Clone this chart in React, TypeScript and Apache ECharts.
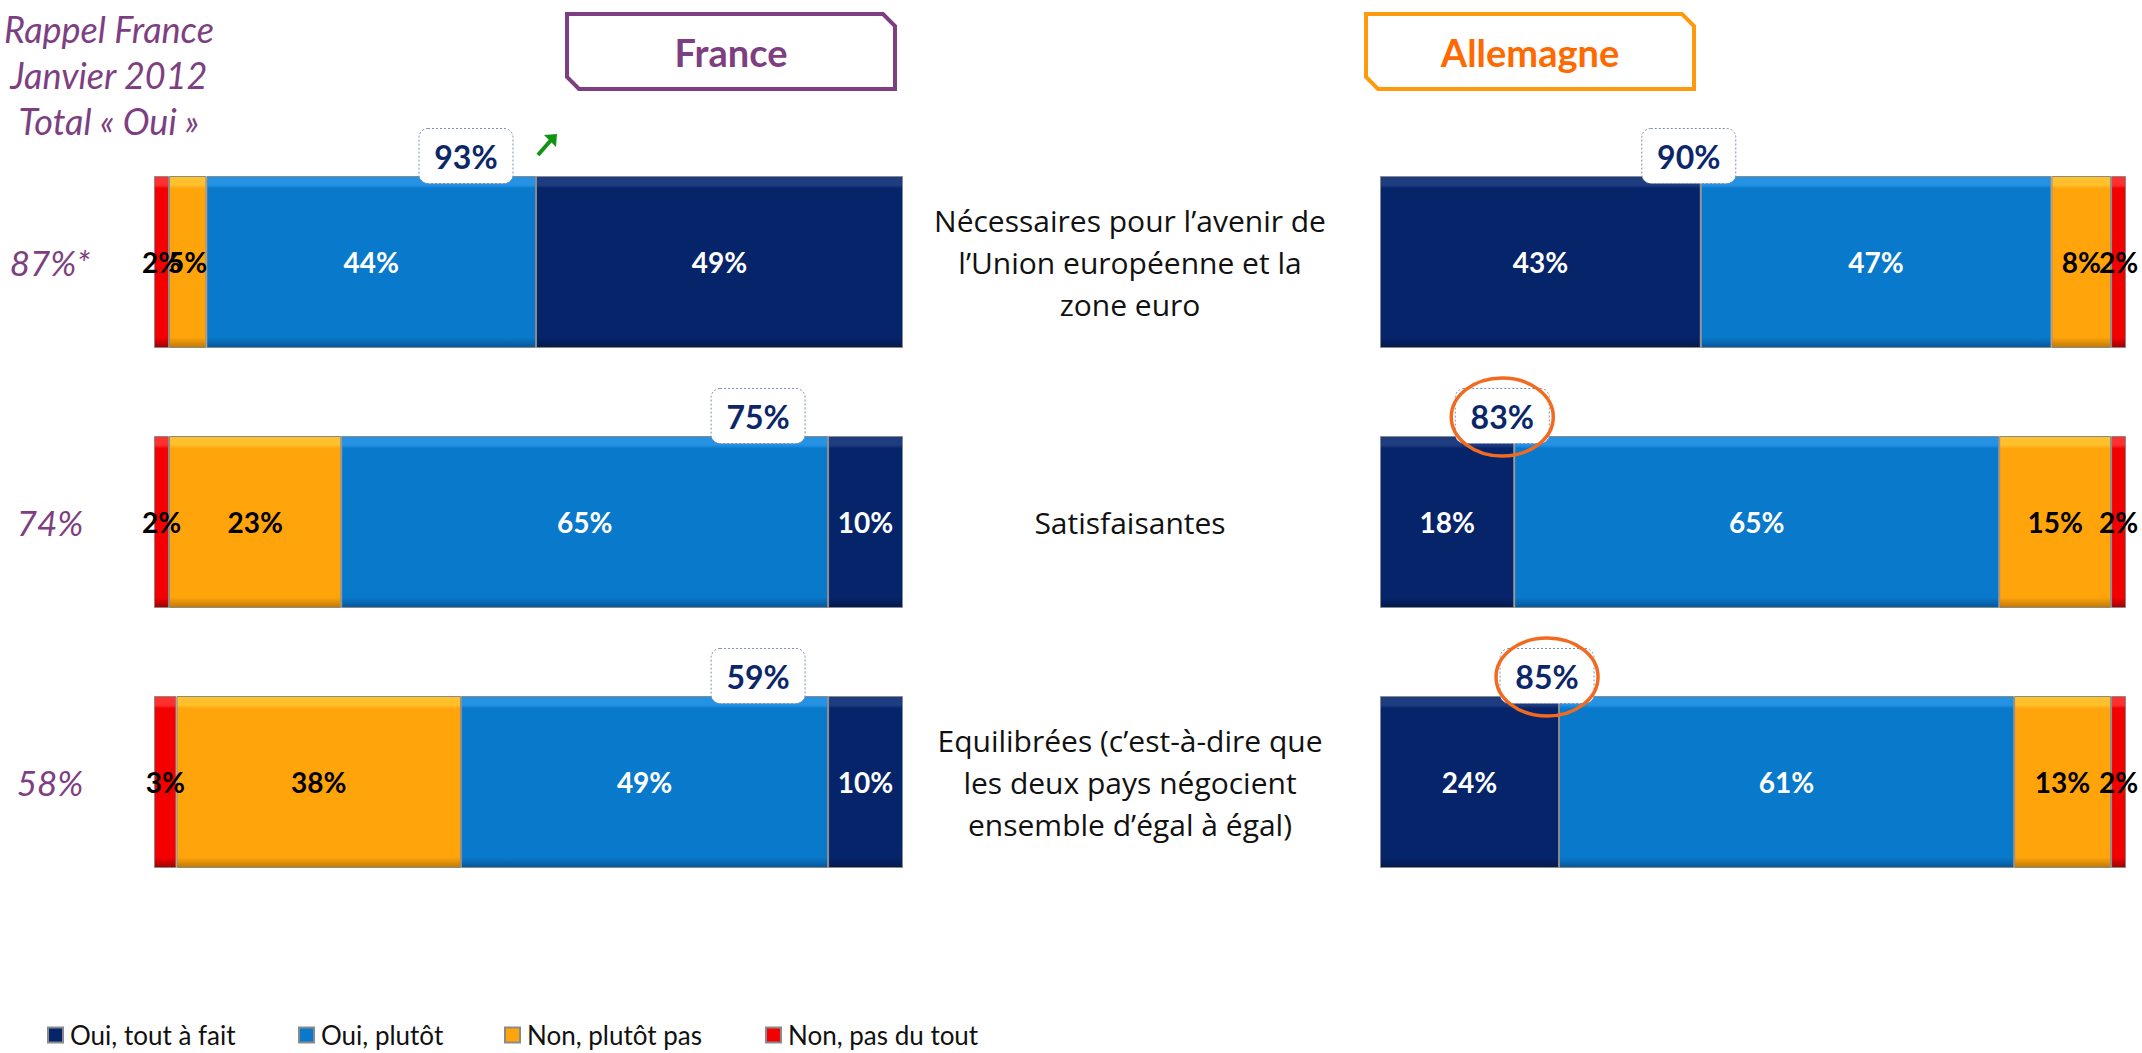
import React, { useEffect, useRef } from "react";
import * as echarts from "echarts";

// ---------- DATA ----------
const categories = [
  "Nécessaires pour l’avenir de\nl’Union européenne et la\nzone euro",
  "Satisfaisantes",
  "Equilibrées (c’est-à-dire que\nles deux pays négocient\nensemble d’égal à égal)",
];
const seriesNames = ["Oui, tout à fait", "Oui, plutôt", "Non, plutôt pas", "Non, pas du tout"];

const franceToutAFait = [49, 10, 10];
const francePlutot = [44, 65, 49];
const franceNonPlutotPas = [5, 23, 38];
const franceNonPasDuTout = [2, 2, 3];
const franceTotalOui = [93, 75, 59];
const franceTrendUp = [true, false, false];

const allemagneToutAFait = [43, 18, 24];
const allemagnePlutot = [47, 65, 61];
const allemagneNonPlutotPas = [8, 15, 13];
const allemagneNonPasDuTout = [2, 2, 2];
const allemagneTotalOui = [90, 83, 85];
const allemagneCircled = [false, true, true];

const rappelJanvier2012 = ["87%*", "74%", "58%"];

// ---------- STYLE ----------
const NAVY = "#06246A";
const BLUE = "#0979CC";
const ORANGE = "#FFA40B";
const RED = "#F50000";
const PURPLE = "#7E3F82";
const LABEL_FONT = "Lato, 'Open Sans', sans-serif";

function bevel(base: string, light: string, dark: string) {
  return new echarts.graphic.LinearGradient(0, 0, 0, 1, [
    { offset: 0, color: light },
    { offset: 0.05, color: light },
    { offset: 0.07, color: base },
    { offset: 0.94, color: base },
    { offset: 1, color: dark },
  ]);
}
const colorMap: Record<string, any> = {
  "Oui, tout à fait": bevel(NAVY, "#1E3D80", "#041A4E"),
  "Oui, plutôt": bevel(BLUE, "#2592E4", "#06579A"),
  "Non, plutôt pas": bevel(ORANGE, "#FFC02E", "#C07A05"),
  "Non, pas du tout": bevel(RED, "#FF3030", "#A00000"),
};
const labelColor: Record<string, string> = {
  "Oui, tout à fait": "#FFFFFF",
  "Oui, plutôt": "#FFFFFF",
  "Non, plutôt pas": "#000000",
  "Non, pas du tout": "#000000",
};

function barSeries(name: string, data: number[], idx: number, stack: string) {
  return {
    name,
    type: "bar",
    stack,
    xAxisIndex: idx,
    yAxisIndex: idx,
    barWidth: 172,
    data,
    itemStyle: { color: colorMap[name], borderColor: "#8a8a8a", borderWidth: 1 },
    label: {
      show: true,
      position: "inside",
      formatter: "{c}%",
      color: labelColor[name],
      fontFamily: LABEL_FONT,
      fontWeight: "bold",
      fontSize: 28,
    },
    emphasis: { disabled: true },
  };
}

function totalsSeries(idx: number, boundaries: number[], totals: number[], side: "fr" | "de") {
  return {
    type: "custom",
    xAxisIndex: idx,
    yAxisIndex: idx,
    clip: false,
    z: 10,
    silent: true,
    encode: { x: 0, y: 1 },
    data: boundaries.map((b, i) => [b, i, totals[i]]),
    renderItem: (params: any, api: any) => {
      const i = params.dataIndex;
      const pt = api.coord([api.value(0), api.value(1)]);
      const barTop = pt[1] - 86;
      const cy = barTop - 20;
      const w = 94;
      const h = 55;
      const cx = side === "fr" ? pt[0] - 23 - w / 2 : pt[0] - 12;
      const children: any[] = [
        {
          type: "rect",
          shape: { x: cx - w / 2, y: cy - h / 2, width: w, height: h, r: 9 },
          style: { fill: "#FFFFFF", stroke: "#7C8DB5", lineWidth: 1, lineDash: [2, 2] },
        },
        {
          type: "text",
          style: {
            text: api.value(2) + "%",
            x: cx,
            y: cy,
            align: "center",
            verticalAlign: "middle",
            textAlign: "center",
            textVerticalAlign: "middle",
            fill: "#0C2769",
            fontFamily: LABEL_FONT,
            fontWeight: "bold",
            fontSize: 32,
          },
        },
      ];
      if (side === "fr" && franceTrendUp[i]) {
        const ax = cx + w / 2 + 33;
        const ay = cy - 11;
        children.push({
          type: "line",
          shape: { x1: ax - 8, y1: ay + 10, x2: ax + 6, y2: ay - 6 },
          style: { stroke: "#129412", lineWidth: 4 },
        });
        children.push({
          type: "polygon",
          shape: { points: [[ax + 11, ay - 11], [ax - 2, ay - 10], [ax + 10, ay + 2]] },
          style: { fill: "#129412" },
        });
      }
      if (side === "de" && allemagneCircled[i]) {
        children.push({
          type: "ellipse",
          shape: { cx: cx, cy: cy + 1, rx: 51, ry: 39 },
          style: { fill: "none", stroke: "#F26A1F", lineWidth: 3.5 },
        });
      }
      return { type: "group", children };
    },
  };
}

const franceBoundary = franceNonPasDuTout.map((v, i) => v + franceNonPlutotPas[i] + francePlutot[i]);
const allemagneBoundary = allemagneToutAFait.slice();

const legendLefts = [47, 298, 504, 765];

function buildOption() {
  return {
    animation: false,
    backgroundColor: "#FFFFFF",
    grid: [
      { left: 154, width: 749, top: 132, height: 780 },
      { left: 1380, width: 746, top: 132, height: 780 },
    ],
    xAxis: [
      { gridIndex: 0, type: "value", min: 0, max: 100, show: false },
      { gridIndex: 1, type: "value", min: 0, max: 100, show: false },
    ],
    yAxis: [
      {
        gridIndex: 0,
        type: "category",
        inverse: true,
        data: categories,
        axisLine: { show: false },
        axisTick: { show: false },
        axisLabel: {
          margin: 104,
          align: "center",
          formatter: (_v: string, i: number) => rappelJanvier2012[i],
          color: PURPLE,
          fontStyle: "italic",
          fontFamily: LABEL_FONT,
          fontSize: 35,
        },
      },
      {
        gridIndex: 1,
        type: "category",
        inverse: true,
        data: categories,
        axisLine: { show: false },
        axisTick: { show: false },
        axisLabel: {
          margin: 250,
          align: "center",
          color: "#111111",
          fontFamily: "'Open Sans', sans-serif",
          fontSize: 30,
          lineHeight: 42,
        },
      },
    ],
    legend: seriesNames.map((n, k) => ({
      data: [n],
      left: legendLefts[k],
      top: 1022,
      padding: 0,
      itemWidth: 15,
      itemHeight: 15,
      icon: "rect",
      selectedMode: false,
      textStyle: { fontFamily: LABEL_FONT, fontSize: 26, color: "#111111", padding: [0, 0, 0, 2] },
    })),
    graphic: [
      {
        type: "text",
        left: 4,
        top: 6,
        style: {
          text: "Rappel France\nJanvier 2012\nTotal « Oui »",
          fill: PURPLE,
          fontStyle: "italic",
          fontFamily: LABEL_FONT,
          fontSize: 36,
          lineHeight: 46,
          align: "center",
          textAlign: "center",
          x: 108,
          y: 0,
        },
      },
      {
        type: "polygon",
        shape: { points: [[567, 14], [883, 14], [895, 26], [895, 89], [579, 89], [567, 77]] },
        style: { fill: "#FFFFFF", stroke: PURPLE, lineWidth: 4 },
      },
      {
        type: "text",
        x: 731,
        y: 52,
        style: {
          text: "France",
          fill: PURPLE,
          fontFamily: LABEL_FONT,
          fontWeight: "bold",
          fontSize: 38,
          align: "center",
          verticalAlign: "middle",
          textAlign: "center",
          textVerticalAlign: "middle",
        },
      },
      {
        type: "polygon",
        shape: { points: [[1366, 14], [1682, 14], [1694, 26], [1694, 89], [1378, 89], [1366, 77]] },
        style: { fill: "#FFFFFF", stroke: "#FF9A0E", lineWidth: 4 },
      },
      {
        type: "text",
        x: 1530,
        y: 52,
        style: {
          text: "Allemagne",
          fill: "#FF6A00",
          fontFamily: LABEL_FONT,
          fontWeight: "bold",
          fontSize: 38,
          align: "center",
          verticalAlign: "middle",
          textAlign: "center",
          textVerticalAlign: "middle",
        },
      },
    ],
    series: [
      barSeries("Non, pas du tout", franceNonPasDuTout, 0, "fr"),
      barSeries("Non, plutôt pas", franceNonPlutotPas, 0, "fr"),
      barSeries("Oui, plutôt", francePlutot, 0, "fr"),
      barSeries("Oui, tout à fait", franceToutAFait, 0, "fr"),
      barSeries("Oui, tout à fait", allemagneToutAFait, 1, "de"),
      barSeries("Oui, plutôt", allemagnePlutot, 1, "de"),
      barSeries("Non, plutôt pas", allemagneNonPlutotPas, 1, "de"),
      barSeries("Non, pas du tout", allemagneNonPasDuTout, 1, "de"),
      totalsSeries(0, franceBoundary, franceTotalOui, "fr"),
      totalsSeries(1, allemagneBoundary, allemagneTotalOui, "de"),
    ],
  };
}

export default function App() {
  const ref = useRef<HTMLDivElement>(null);
  useEffect(() => {
    document.body.style.margin = "0";
    if (!ref.current) return;
    const chart = echarts.init(ref.current, null, { renderer: "svg" });
    chart.setOption(buildOption() as any);
    return () => chart.dispose();
  }, []);
  return <div ref={ref} style={{ width: 2142, height: 1053 }} />;
}
